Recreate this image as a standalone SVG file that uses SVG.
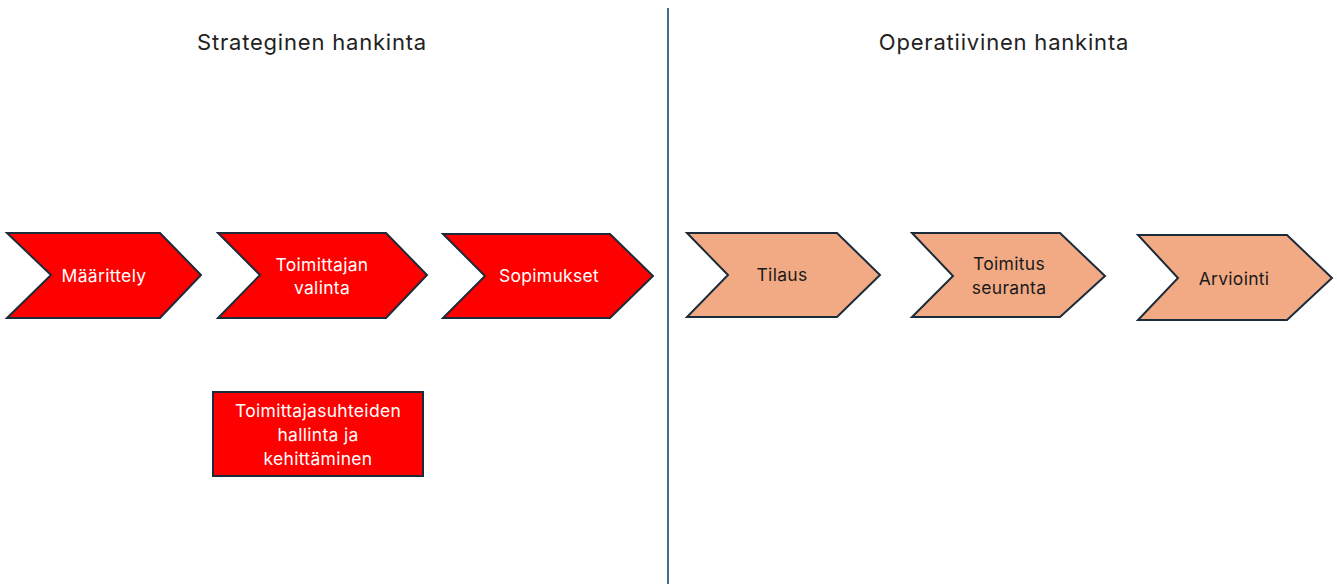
<svg xmlns="http://www.w3.org/2000/svg" width="1337" height="584" viewBox="0 0 1337 584">
  <style>
    .title { font-family: Inter, "Liberation Sans", sans-serif; font-size: 22px; letter-spacing: 0.8px; fill: #222; text-anchor: middle; }
    .lbl { font-family: Inter, "Liberation Sans", sans-serif; font-size: 17.5px; letter-spacing: 0.3px; text-anchor: middle; }
    .strat { fill: #FF0000; stroke: #1b2b3a; stroke-width: 2; stroke-linejoin: miter; }
    .oper { fill: #F2AA84; stroke: #1b2b3a; stroke-width: 2; stroke-linejoin: miter; }
    .w { fill: #ffffff; }
    .d { fill: #1a1a1a; }
  </style>
  <rect width="1337" height="584" fill="#ffffff"/>

  <!-- section headings -->
  <text class="title" x="312" y="50">Strateginen hankinta</text>
  <text class="title" x="1004" y="50">Operatiivinen hankinta</text>

  <!-- divider between strategic and operative phases -->
  <g id="connectors">
    <line x1="668" y1="8" x2="668" y2="584" stroke="#3f6f96" stroke-width="2"/>
  </g>

  <!-- strategic phase -->
  <g id="maarittely">
    <polygon class="strat" points="7,233 160,233 201,275 160,318 7,318 51,275"/>
    <text class="lbl w" x="104" y="282">Määrittely</text>
  </g>
  <g id="toimittajan-valinta">
    <polygon class="strat" points="218,233 386,233 427,275 386,318 218,318 260,275"/>
    <text class="lbl w" x="322" y="271">Toimittajan</text>
    <text class="lbl w" x="322" y="294">valinta</text>
  </g>
  <g id="sopimukset">
    <polygon class="strat" points="443,234 610,234 653,276 610,318 443,318 485,276"/>
    <text class="lbl w" x="549" y="282">Sopimukset</text>
  </g>
  <g id="toimittajasuhteet">
    <rect class="strat" x="213" y="392" width="210" height="84"/>
    <text class="lbl w" x="318" y="417">Toimittajasuhteiden</text>
    <text class="lbl w" x="318" y="441">hallinta ja</text>
    <text class="lbl w" x="318" y="465">kehittäminen</text>
  </g>

  <!-- operative phase -->
  <g id="tilaus">
    <polygon class="oper" points="687,233 837,233 880,275 837,317 687,317 728,275"/>
    <text class="lbl d" x="782" y="281">Tilaus</text>
  </g>
  <g id="toimitus-seuranta">
    <polygon class="oper" points="912,233 1060,233 1105,276 1060,317 912,317 953,276"/>
    <text class="lbl d" x="1009" y="270">Toimitus</text>
    <text class="lbl d" x="1009" y="294">seuranta</text>
  </g>
  <g id="arviointi">
    <polygon class="oper" points="1138,235 1287,235 1332,278 1287,320 1138,320 1178,278"/>
    <text class="lbl d" x="1234" y="285">Arviointi</text>
  </g>
</svg>
